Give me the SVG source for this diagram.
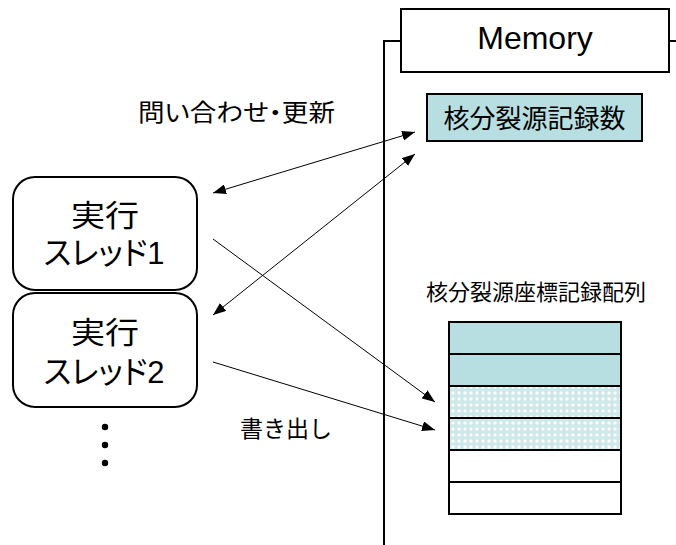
<svg xmlns="http://www.w3.org/2000/svg" width="676" height="545" viewBox="0 0 676 545">
  <style>
    .box { fill: #ffffff; stroke: #000000; stroke-width: 2; }
    .teal { fill: #b7dfe2; stroke: #000000; stroke-width: 2; }
    .hatch { fill: url(#dots); stroke: #000000; stroke-width: 2; }
    .edge { fill: none; stroke: #000000; stroke-width: 1; }
    .frame { fill: none; stroke: #000000; stroke-width: 2; }
    text { font-family: "Liberation Sans", "Noto Sans CJK JP", sans-serif; fill: #000000; text-anchor: middle; }
    .big { font-size: 30px; }
    .kana { font-size: 32px; font-feature-settings: "palt"; }
    .mid { font-size: 23px; }
  </style>
  <defs>
    <marker id="head" markerUnits="userSpaceOnUse" markerWidth="14" markerHeight="10" refX="13" refY="5" orient="auto-start-reverse">
      <path d="M0,0 L13,5 L0,10 Z" fill="#000000"/>
    </marker>
    <pattern id="dots" width="6" height="6" patternUnits="userSpaceOnUse">
      <rect width="6" height="6" fill="#cfe9eb"/>
      <path d="M3,1 L5,3 L3,5 L1,3 Z" fill="#ffffff"/>
    </pattern>
  </defs>

  <!-- memory region: title box and bracket -->
  <g id="memory">
    <path class="frame" d="M384,545 L384,41 L401,41 M669,41 L676,41"/>
    <rect class="box" x="401" y="9" width="268" height="63"/>
    <text x="535" y="49" style="font-size:32px">Memory</text>
  </g>

  <g id="fission-count">
    <rect class="teal" x="427" y="94" width="215" height="47"/>
    <text x="534.5" y="128" style="font-size:26px">核分裂源記録数</text>
  </g>

  <g id="thread1">
    <rect class="box" x="13" y="177" width="184" height="113" rx="22" ry="22"/>
    <text class="big" x="105" y="226" textLength="68" lengthAdjust="spacingAndGlyphs">実行</text>
    <text class="kana" x="104" y="264" textLength="121" lengthAdjust="spacingAndGlyphs">スレッド1</text>
  </g>

  <g id="thread2">
    <rect class="box" x="13" y="293" width="184" height="114" rx="22" ry="22"/>
    <text class="big" x="105" y="343" textLength="68" lengthAdjust="spacingAndGlyphs">実行</text>
    <text class="kana" x="104" y="383" textLength="121" lengthAdjust="spacingAndGlyphs">スレッド2</text>
  </g>

  <g id="more-threads">
    <circle cx="105" cy="427" r="3.2"/>
    <circle cx="105" cy="445" r="3.2"/>
    <circle cx="105" cy="463" r="3.2"/>
  </g>

  <g id="coord-array">
    <text x="536" y="300" style="font-size:22px">核分裂源座標記録配列</text>
    <rect class="teal" x="449" y="322" width="172" height="32"/>
    <rect class="teal" x="449" y="354" width="172" height="32"/>
    <rect class="hatch" x="449" y="386" width="172" height="32"/>
    <rect class="hatch" x="449" y="418" width="172" height="32"/>
    <rect class="box" x="449" y="450" width="172" height="32"/>
    <rect class="box" x="449" y="482" width="172" height="32"/>
  </g>

  <g id="connectors">
    <line class="edge" x1="213" y1="193" x2="415" y2="132" marker-start="url(#head)" marker-end="url(#head)"/>
    <line class="edge" x1="213" y1="315" x2="415" y2="154" marker-start="url(#head)" marker-end="url(#head)"/>
    <line class="edge" x1="213" y1="239" x2="435" y2="402" marker-end="url(#head)"/>
    <line class="edge" x1="213" y1="362" x2="435" y2="430" marker-end="url(#head)"/>
    <text class="mid" x="236.5" y="121" style="font-size:24px; font-feature-settings:'palt'" textLength="197" lengthAdjust="spacingAndGlyphs">問い合わせ・更新</text>
    <text class="mid" x="286" y="437">書き出し</text>
  </g>
</svg>
